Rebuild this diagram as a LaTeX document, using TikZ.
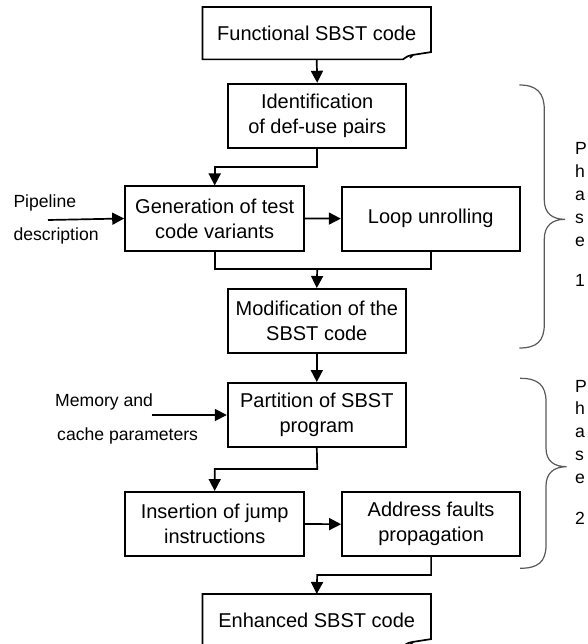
\documentclass[tikz,border=0pt]{standalone}
\usepackage{fontspec}
\setmainfont{Liberation Sans}
\usetikzlibrary{arrows.meta,calc}
\begin{document}
\begin{tikzpicture}[x=1pt,y=-1pt,
  boxfont/.style={font=\fontsize{20}{25}\selectfont},
  stepbox/.style={draw, line width=2pt, minimum width=178pt, minimum height=64pt,
    align=center, inner sep=2pt, boxfont},
  docbox/.style={minimum width=228pt, minimum height=52pt, align=center, inner sep=2pt, boxfont},
  docline/.style={line width=1.7pt, line join=miter},
  conn/.style={line width=1.7pt},
  flow/.style={conn, -{Triangle[width=12pt,length=12pt]}},
  side/.style={font=\fontsize{17.6}{22}\selectfont, anchor=base west, inner sep=0pt},
  brace/.style={line width=1.2pt, draw=black!65},
  tag/.style={font=\fontsize{17.6}{22}\selectfont, anchor=base west, inner sep=0pt}]

\useasboundingbox (0,0) rectangle (587,644);

% ---- process steps ----
\node[docbox] (func) at (316.7,33.2) {Functional SBST code};
\node[stepbox] (ident) at (317.2,115.8) {Identification\\of def-use pairs};
\node[stepbox, minimum width=179pt] (gen) at (214.7,218.5) {Generation of test\\code variants};
\node[stepbox] (loop) at (430.8,218.6) {Loop unrolling};
\node[stepbox] (mod) at (316.8,321) {Modification of the\\SBST code};
\node[stepbox] (part) at (316.8,415) {Partition of SBST\\program};
\node[stepbox, minimum width=179pt] (ins) at (214.7,524) {Insertion of jump\\instructions};
\node[stepbox] (addr) at (431.1,524.2) {Address faults\\propagation};
\node[docbox] (enh) at (316.7,620.2) {Enhanced SBST code};

% document outlines with a curled lower right corner
\draw[docline] (func.south west) -- (func.north west) -- (func.north east)
  -- ($(func.south east)+(0,-7.3)$) -- ($(func.south east)+(-18,-4.5)$)
  .. controls ($(func.south east)+(-23,-3.5)$) .. ($(func.south east)+(-28,0)$) -- cycle;
\draw[docline] ($(func.south east)+(-18,-4.5)$) -- ($(func.south east)+(-21,-1.5)$);
\draw[docline] (enh.south west) -- (enh.north west) -- (enh.north east)
  -- ($(enh.south east)+(0,-7.3)$) -- ($(enh.south east)+(-18,-4.5)$)
  .. controls ($(enh.south east)+(-23,-3.5)$) .. ($(enh.south east)+(-28,0)$) -- cycle;
\draw[docline] ($(enh.south east)+(-18,-4.5)$) -- ($(enh.south east)+(-21,-1.5)$);

% ---- external inputs ----
\node[side] (pipe1) at (13.3,207.3) {Pipeline};
\node[side] (pipe2) at (13.3,240) {description};
\coordinate (pipein) at (48,220);
\node[side] (mem1) at (55,406) {Memory and};
\node[side] (mem2) at (57,440) {cache parameters};
\coordinate (memin) at (151.7,415);

% ---- connectors ----
\coordinate (j1) at (317.2,166.7);
\coordinate (j2) at (317.2,269.3);
\coordinate (j3) at (317.2,469);
\coordinate (j4) at (317.2,575);

\draw[flow] (func.south) -- (ident.north);
\draw[flow] (ident.south) -- (j1) -- (j1 -| gen.north) -- (gen.north);
\draw[flow] (pipein) -- (gen.west);
\draw[flow] (gen.east) -- (loop.west);
\draw[conn] (gen.south) -- (gen.south |- j2) -- (loop.south |- j2) -- (loop.south);
\draw[flow] (j2) -- (mod.north);
\draw[flow] (mod.south) -- (part.north);
\draw[flow] (memin) -- (part.west);
\draw[flow] (part.south) -- (j3) -- (j3 -| ins.north) -- (ins.north);
\draw[flow] (ins.east) -- (addr.west);
\draw[flow] (addr.south) -- (addr.south |- j4) -- (j4) -- (enh.north);

% ---- phase braces ----
\draw[brace] (519.3,85) .. controls (537,85) and (544.3,93) .. (544.3,110)
  -- (544.3,200) .. controls (544.3,213) and (552,219.3) .. (565,219.3)
  .. controls (552,219.3) and (544.3,226) .. (544.3,239)
  -- (544.3,324) .. controls (544.3,341) and (537,348) .. (519.3,348);
\draw[brace] (520,378.3) .. controls (538,378.3) and (546,385) .. (546,402)
  -- (546,448) .. controls (546,461) and (554,466.7) .. (566.7,466.7)
  .. controls (554,466.7) and (546,473) .. (546,486)
  -- (546,545) .. controls (546,562) and (538,568.3) .. (520,568.3);

% ---- phase labels ----
\foreach \ch [count=\i from 0] in {P,h,a,s,e} {
  \node[tag] (pa\i) at (575,155+22.9*\i) {\ch};
}
\node[tag] (pa5) at (575,286.7) {1};
\foreach \ch [count=\i from 0] in {P,h,a,s,e} {
  \node[tag] (pb\i) at (575,392+22.9*\i) {\ch};
}
\node[tag] (pb5) at (575,524) {2};
\end{tikzpicture}
\end{document}
